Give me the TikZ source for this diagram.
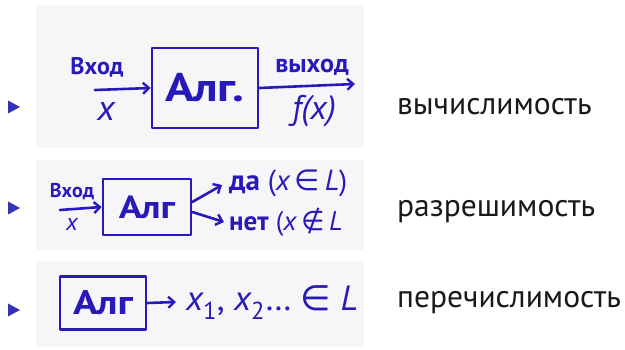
\documentclass[tikz,border=0pt]{standalone}
\usepackage{fontspec}
\setmainfont{PT Sans}
\newfontfamily\symfont{DejaVu Sans}
\usetikzlibrary{arrows.meta}
\definecolor{ink}{RGB}{40,25,185}
\definecolor{bul}{RGB}{51,51,179}
\definecolor{paper}{RGB}{246,246,249}
\definecolor{lbl}{RGB}{25,25,25}
\newcommand{\hv}[1]{{\itshape #1}}
\tikzset{
  inkline/.style={draw=ink, line width=2.6pt, line cap=round, line join=round},
  algbox/.style={inkline, rectangle, inner sep=0pt, text=ink},
  hand/.style={text=ink, inner sep=0pt},
  arr/.style={inkline, -{Straight Barb[length=6pt, width=11pt, line width=2.4pt]}},
  lbltext/.style={anchor=base west, inner sep=0pt, text=lbl, font=\fontsize{31.5}{36}\selectfont},
}
\begin{document}
\begin{tikzpicture}[x=1pt, y=-1pt]
\useasboundingbox (0,0) rectangle (625,350);
% panels
\fill[paper] (36,5) rectangle (364,148);
\fill[paper] (36,160) rectangle (364,250);
\fill[paper] (36,261) rectangle (364,347);
% bullets
\fill[bul] (8,100.5) -- (20,107) -- (8,113.5) -- cycle;
\fill[bul] (8,201.5) -- (20,208) -- (8,214.5) -- cycle;
\fill[bul] (8,303.5) -- (20,310) -- (8,316.5) -- cycle;
% row 1
\node[algbox, minimum width=106pt, minimum height=80pt, font=\fontsize{40}{44}\selectfont\bfseries] (alg1) at (205,88) {\scalebox{1.2}[1]{Алг.}};
\coordinate (in1) at (95,90);
\coordinate (out1) at (355,84);
\draw[arr] (in1) -- (alg1.west);
\draw[arr] (alg1.east) -- (out1);
\node[hand, font=\fontsize{24}{26}\selectfont\bfseries] (inlbl1) at (97,67) {Вход};
\node[hand, font=\fontsize{36}{38}\selectfont\itshape] (x1) at (106,112) {x};
\node[hand, font=\fontsize{26}{28}\selectfont\bfseries] (outlbl1) at (312,67) {выход};
\node[hand, font=\fontsize{34}{38}\selectfont\itshape] (fx) at (314,111) {f(x)};
% row 2
\node[algbox, minimum width=88pt, minimum height=56pt, font=\fontsize{32}{36}\selectfont\bfseries] (alg2) at (147,207) {\scalebox{1.2}[1]{Алг}};
\coordinate (in2) at (60,210);
\coordinate (yes) at (222,185);
\coordinate (no) at (224,222);
\draw[arr] (in2) -- (alg2.west);
\draw[arr] ([yshift=5pt]alg2.east) -- (yes);
\draw[arr] ([yshift=-5pt]alg2.east) -- (no);
\node[hand, font=\fontsize{20}{22}\selectfont\bfseries] (inlbl2) at (72,192) {Вход};
\node[hand, font=\fontsize{24}{26}\selectfont\itshape] (x2) at (72,225) {x};
\node[hand, anchor=west, font=\fontsize{29}{32}\selectfont] (yeslbl) at (229,183) {\textbf{да} (\hv{x}\,{\symfont ∈}\,\hv{L})};
\node[hand, anchor=west, font=\fontsize{27}{30}\selectfont] (nolbl) at (229,222) {\textbf{нет} (\hv{x}\,{\symfont ∉}\,\hv{L}};
% row 3
\node[algbox, minimum width=86pt, minimum height=53pt, font=\fontsize{34}{38}\selectfont\bfseries] (alg3) at (103,303) {\scalebox{1.2}[1]{Алг}};
\coordinate (enum) at (176,302);
\draw[arr] (alg3.east) -- (enum);
\node[hand, anchor=west, font=\fontsize{35}{40}\selectfont] (seq) at (186,303) {\hv{x}\textsubscript{1}, \hv{x}\textsubscript{2}\dots\ {\symfont ∈} \hv{L}};
% labels
\node[lbltext] (l1) at (397,115) {вычислимость};
\node[lbltext] (l2) at (397,217) {разрешимость};
\node[lbltext] (l3) at (397,308) {перечислимость};
\end{tikzpicture}
\end{document}
